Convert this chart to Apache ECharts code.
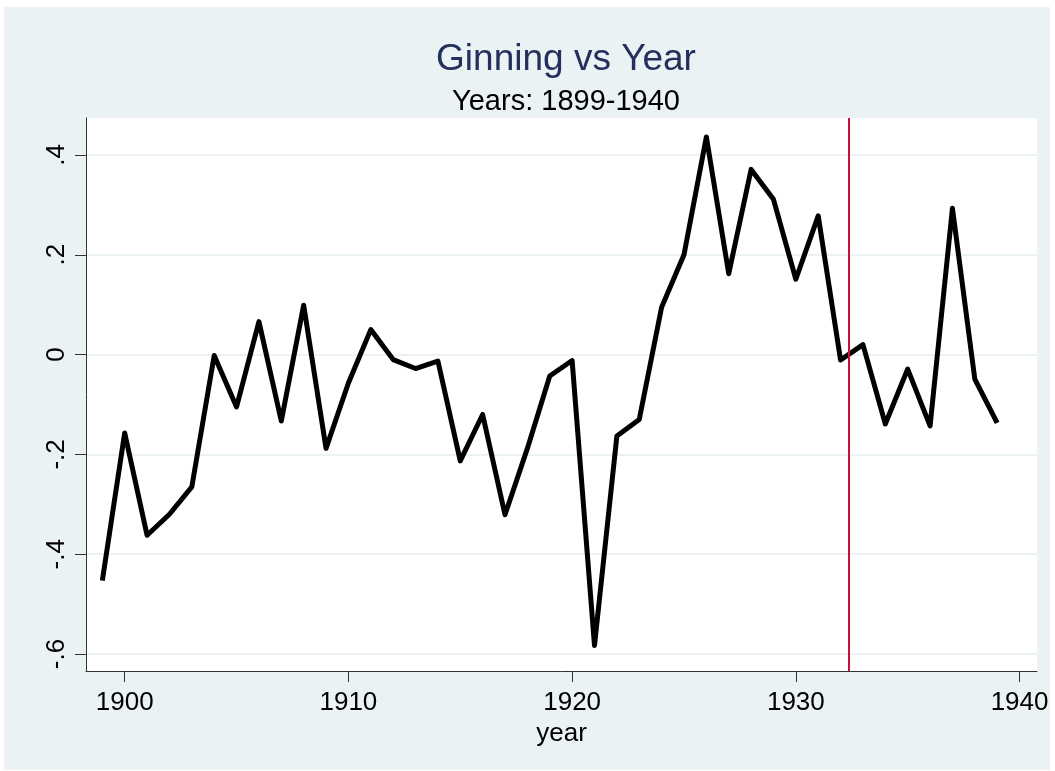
<!DOCTYPE html>
<html>
<head>
<meta charset="utf-8">
<script src="https://cdn.jsdelivr.net/npm/echarts@6/dist/echarts.min.js"></script>
<style>
  html, body { margin: 0; padding: 0; background: #fff; }
  #chart { position: absolute; left: 4px; top: 7px; width: 1046px; height: 763px; }
</style>
</head>
<body>
<div id="chart"></div>
<script>
  var years = [1899, 1900, 1901, 1902, 1903, 1904, 1905, 1906, 1907, 1908,
               1909, 1910, 1911, 1912, 1913, 1914, 1915, 1916, 1917, 1918,
               1919, 1920, 1921, 1922, 1923, 1924, 1925, 1926, 1927, 1928,
               1929, 1930, 1931, 1932, 1933, 1934, 1935, 1936, 1937, 1938, 1939]
  var ginning = [-0.453, -0.157, -0.362, -0.32, -0.265, -0.002, -0.105, 0.066, -0.133, 0.099,
                 -0.188, -0.057, 0.05, -0.01, -0.028, -0.013, -0.213, -0.12, -0.321, -0.188,
                 -0.043, -0.012, -0.583, -0.163, -0.13, 0.095, 0.2, 0.436, 0.162, 0.371,
                 0.311, 0.151, 0.278, -0.011, 0.02, -0.139, -0.029, -0.143, 0.293, -0.049, -0.137]
  var xTicks = [1900, 1910, 1920, 1930, 1940]
  var yTicks = [-0.6, -0.4, -0.2, 0, 0.2, 0.4]
  var cutYear = 1932.35

  var font = 'Liberation Sans, Arial, sans-serif'
  var chart = echarts.init(document.getElementById('chart'))

  chart.setOption({
    animation: false,
    backgroundColor: '#eaf2f3',
    title: [
      {
        text: 'Ginning vs Year',
        left: 557,
        top: 29,
        textAlign: 'center',
        textStyle: { color: '#232f5c', fontSize: 37, fontWeight: 'normal', fontFamily: font }
      },
      {
        text: 'Years: 1899-1940',
        left: 557,
        top: 75,
        textAlign: 'center',
        textStyle: { color: '#000', fontSize: 29, fontWeight: 'normal', fontFamily: font }
      }
    ],
    grid: {
      left: 82,
      top: 111,
      width: 951,
      height: 553,
      outerBoundsMode: 'none',
      containLabel: false,
      show: true,
      backgroundColor: '#fff',
      borderWidth: 0
    },
    xAxis: {
      type: 'value',
      min: 1898.27,
      max: 1940.78,
      name: 'year',
      nameLocation: 'middle',
      nameGap: 42,
      nameTextStyle: { color: '#000', fontSize: 26, fontFamily: font },
      axisLine: { show: true, onZero: false, lineStyle: { color: '#333', width: 1 } },
      axisTick: { show: true, length: 11, customValues: xTicks, lineStyle: { color: '#333' } },
      axisLabel: {
        customValues: xTicks,
        color: '#000',
        fontSize: 26,
        fontFamily: font,
        margin: 19,
        formatter: function (v) { return String(v) }
      },
      splitLine: { show: false }
    },
    yAxis: {
      type: 'value',
      min: -0.634,
      max: 0.474,
      axisLine: { show: true, onZero: false, lineStyle: { color: '#333', width: 1 } },
      axisTick: { show: true, length: 11, customValues: yTicks, lineStyle: { color: '#333' } },
      axisLabel: {
        customValues: yTicks,
        rotate: 90,
        color: '#000',
        fontSize: 26,
        fontFamily: font,
        margin: 16,
        formatter: function (v) {
          if (Math.abs(v) < 1e-9) return '0'
          return v.toFixed(1).replace('0.', '.')
        }
      },
      splitLine: { show: true, lineStyle: { color: '#eaf2f3', width: 2 } }
    },
    series: [
      {
        type: 'line',
        data: years.map(function (y, i) { return [y, ginning[i]] }),
        showSymbol: false,
        lineStyle: { color: '#000', width: 5, join: 'round' },
        markLine: {
          silent: true,
          symbol: 'none',
          label: { show: false },
          lineStyle: { color: '#c8103c', width: 2, type: 'solid' },
          data: [{ xAxis: cutYear }]
        }
      }
    ]
  })
</script>
</body>
</html>
